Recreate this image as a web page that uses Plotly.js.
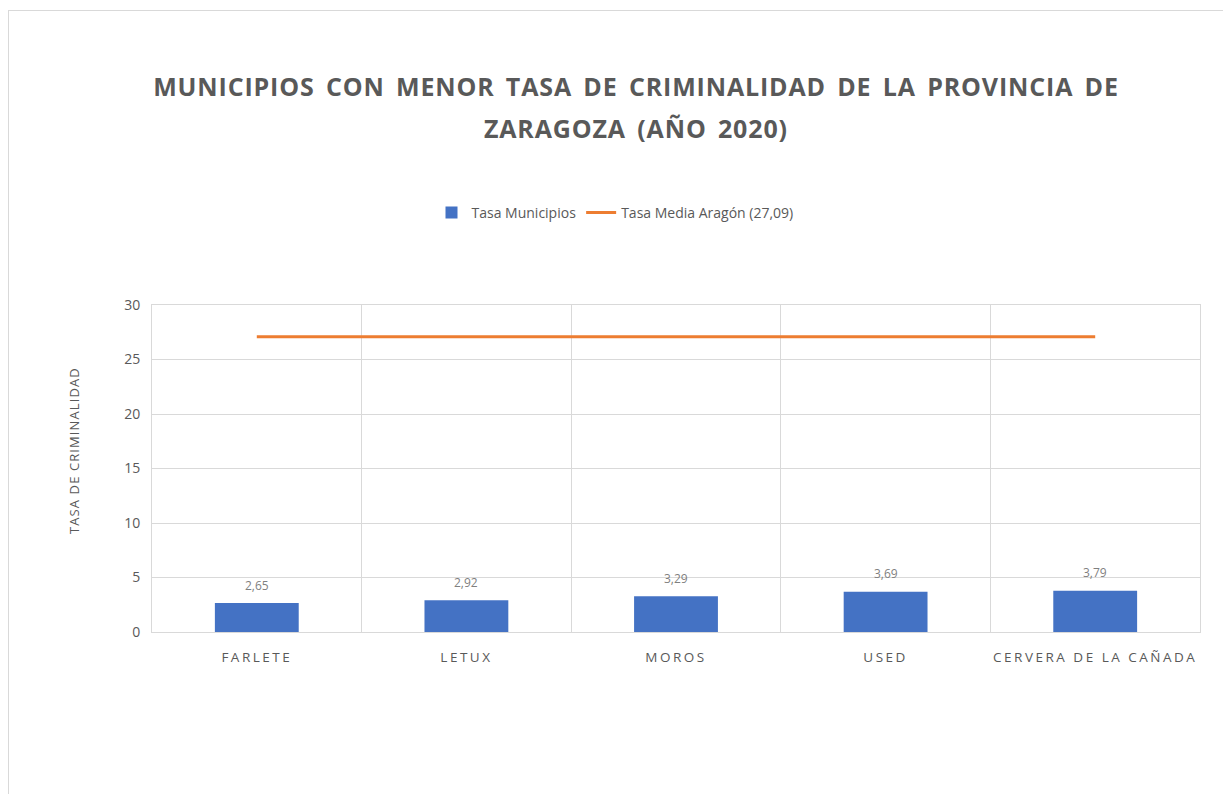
<!DOCTYPE html>
<html><head><meta charset="utf-8">
<script src="https://cdn.plot.ly/plotly-3.0.1.min.js"></script>
<style>
html,body{margin:0;padding:0;background:#fff;overflow:hidden}
#chart{width:1223px;height:794px}
#frame{position:absolute;left:8px;top:10px;width:1300px;height:900px;border:1px solid #d9d9d9;pointer-events:none;box-sizing:border-box}
.gtitle, .annotation.ttl text{letter-spacing:0.85px;word-spacing:4px}
.xtick text{letter-spacing:2.5px}
.annotation.ytl text{letter-spacing:1.1px}
</style></head>
<body>
<div id="chart"></div>
<div id="frame"></div>
<script>
const categories = ["FARLETE", "LETUX", "MOROS", "USED", "CERVERA DE LA CAÑADA"];
const tasaMunicipios = [2.65, 2.92, 3.29, 3.69, 3.79];
const tasaMediaAragon = [27.09, 27.09, 27.09, 27.09, 27.09];
const labels = ["2,65", "2,92", "3,29", "3,69", "3,79"];
const titleLine1 = 'MUNICIPIOS CON MENOR TASA DE CRIMINALIDAD DE LA PROVINCIA DE';
const titleLine2 = 'ZARAGOZA (AÑO 2020)';
const yTitle = 'TASA DE CRIMINALIDAD';

const grey = '#595959';
const data = [
  {type:'bar', name:'Tasa Municipios', x:categories, y:tasaMunicipios,
   marker:{color:'#4472C4'}, hoverinfo:'x+y'},
  {type:'scatter', mode:'lines', name:'Tasa Media Aragón (27,09)', x:categories, y:tasaMediaAragon,
   line:{color:'#ED7D31', width:3}}
];
const PT = 305, PH = 327, PL = 152, PW = 1048;
const py = v => 1 + (PT - v) / PH;
const annotations = categories.map((c,i)=>({
  x:c, y:tasaMunicipios[i], xref:'x', yref:'y', text:labels[i], showarrow:false,
  yshift:18, font:{family:'Open Sans, sans-serif', size:12, color:'#7f7f7f'}
}));
annotations.push({text:titleLine2, xref:'paper', yref:'paper', x:(636-PL)/PW, y:py(128),
  xanchor:'center', yanchor:'middle', showarrow:false,
  font:{family:'Open Sans, sans-serif', size:25, color:grey, weight:'bold'}});
annotations.push({text:yTitle, xref:'paper', yref:'paper', x:(74-PL)/PW, y:(PT+PH-451)/PH,
  xanchor:'center', yanchor:'middle', textangle:-90, showarrow:false,
  font:{family:'Open Sans, sans-serif', size:13, color:grey}});
const layout = {
  width:1223, height:794,
  margin:{l:PL, r:23, t:PT, b:162},
  paper_bgcolor:'#fff', plot_bgcolor:'#fff',
  font:{family:'Open Sans, sans-serif', color:grey},
  separators:',.',
  title:{text:titleLine1,
    font:{family:'Open Sans, sans-serif', size:25, color:grey, weight:'bold'},
    xref:'container', x:636/1223, xanchor:'center', yref:'container', y:1-87/794, yanchor:'middle'},
  showlegend:true,
  legend:{orientation:'h', x:(615-PL)/PW, xanchor:'center', y:py(213), yanchor:'middle',
    font:{size:14, color:grey}, traceorder:'normal', itemwidth:30},
  bargap:0.6,
  xaxis:{type:'category', range:[-0.5,4.5], tickson:'boundaries', showgrid:true, gridcolor:'#d9d9d9',
    gridwidth:1, ticks:'', showline:true, linecolor:'#d9d9d9', mirror:true,
    tickfont:{size:13.5, color:grey}, ticklabelstandoff:13, fixedrange:true},
  yaxis:{range:[0,30], dtick:5, showgrid:true, gridcolor:'#d9d9d9', gridwidth:1, zeroline:false,
    showline:true, linecolor:'#d9d9d9', mirror:true, ticks:'',
    tickfont:{size:14, color:grey}, ticklabelstandoff:8, fixedrange:true},
  annotations:annotations
};
Plotly.newPlot('chart', data, layout, {displayModeBar:false}).then(gd=>{
  const anns = gd.querySelectorAll('.annotation');
  anns.forEach(a=>{
    const t = a.textContent;
    if (t === titleLine2) a.classList.add('ttl');
    if (t === yTitle) a.classList.add('ytl');
  });
});
</script>
</body></html>
